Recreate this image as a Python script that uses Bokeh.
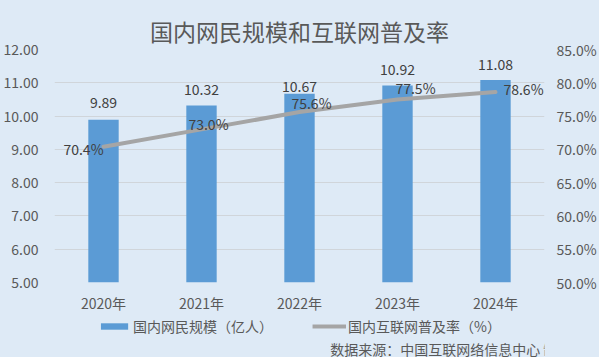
from bokeh.plotting import figure
from bokeh.layouts import column
from bokeh.models import (ColumnDataSource, Range1d, LinearAxis, PrintfTickFormatter,
                          LabelSet, Legend, LegendItem, Label, FactorRange, FixedTicker)
from bokeh.core.properties import value
from bokeh.embed import file_html
from bokeh.resources import INLINE

# ---- data ----
years = ["2020年", "2021年", "2022年", "2023年", "2024年"]
netizens = [9.89, 10.32, 10.67, 10.92, 11.08]          # 亿人
penetration = [70.4, 73.0, 75.6, 77.5, 78.6]           # %
netizen_labels = ["9.89", "10.32", "10.67", "10.92", "11.08"]
penetration_labels = ["70.4%", "73.0%", "75.6%", "77.5%", "78.6%"]
left_ticks = [5, 6, 7, 8, 9, 10, 11, 12]
right_ticks = [50, 55, 60, 65, 70, 75, 80, 85]
series_names = ["国内网民规模（亿人）", "国内互联网普及率（%）"]
source_text = "数据来源：中国互联网络信息中心  制图：《金基研》"

# label placement (screen px)
bar_label_dy = [17, 16, 7, 16, 16]
line_label_dx = [-20, 7, 12, 18, 28]
line_label_dy = [-2, 5, 9, 11, 3]

BG = "#DEEAF6"
TXT = "#595959"
DARK = "#404040"
BAR = "#5B9BD5"
LINE = "#A5A5A5"
FONT = "Noto Sans CJK SC"
BGSTYLE = {"background-color": BG}

src = ColumnDataSource(dict(
    x=years, n=netizens, p=penetration,
    nl=netizen_labels, pl=penetration_labels,
    bdy=bar_label_dy, ldx=line_label_dx, ldy=line_label_dy,
))

p = figure(width=599, height=316, x_range=FactorRange(*years, range_padding=0),
           y_range=Range1d(5, 12), output_backend="svg", toolbar_location=None,
           min_border_left=53, min_border_right=54, min_border_top=49, min_border_bottom=34,
           styles=BGSTYLE)
p.extra_y_ranges = {"pct": Range1d(50, 85)}
p.background_fill_color = BG
p.border_fill_color = BG
p.outline_line_color = None

p.title.text = "国内网民规模和互联网普及率"
p.title.align = "center"
p.title.text_font = FONT
p.title.text_font_size = "23px"
p.title.text_font_style = "normal"
p.title.text_color = TXT
p.title.standoff = 4

p.vbar(x="x", top="n", bottom=5, width=0.31, source=src, fill_color=BAR, line_color=None)
p.line(x="x", y="p", source=src, y_range_name="pct",
       line_color=LINE, line_width=4, line_join="round", line_cap="round")

# axes
def style_axis(ax):
    ax.axis_line_color = None
    ax.major_tick_line_color = None
    ax.minor_tick_line_color = None
    ax.major_tick_out = 0
    ax.major_tick_in = 0
    ax.minor_tick_out = 0
    ax.major_label_text_font = FONT
    ax.major_label_text_font_size = "14px"
    ax.major_label_text_color = TXT

style_axis(p.yaxis[0])
p.yaxis[0].ticker = FixedTicker(ticks=left_ticks)
p.yaxis[0].formatter = PrintfTickFormatter(format="%.2f")
p.yaxis[0].major_label_standoff = 16

raxis = LinearAxis(y_range_name="pct", ticker=FixedTicker(ticks=right_ticks),
                   formatter=PrintfTickFormatter(format="%.1f%%"))
style_axis(raxis)
raxis.major_label_standoff = 12
p.add_layout(raxis, "right")

style_axis(p.xaxis[0])
p.xaxis[0].major_label_standoff = 10

p.xgrid.grid_line_color = None
p.ygrid.grid_line_color = "#D0D5DA"
p.ygrid.grid_line_width = 1
p.ygrid.ticker = FixedTicker(ticks=left_ticks)

# data labels
p.add_layout(LabelSet(x="x", y="n", text="nl", source=src, y_offset="bdy",
                      text_align="center", text_baseline="middle",
                      text_font=value(FONT), text_font_size="14px", text_color=DARK))
p.add_layout(LabelSet(x="x", y="p", text="pl", source=src, y_range_name="pct",
                      x_offset="ldx", y_offset="ldy",
                      text_align="center", text_baseline="middle",
                      text_font=value(FONT), text_font_size="14px", text_color=DARK))

# ---- footer: legend + source note ----
f = figure(width=599, height=41, x_range=FactorRange(*years, range_padding=0),
           y_range=Range1d(0, 41),
           output_backend="svg", toolbar_location=None,
           x_axis_location=None, y_axis_location=None,
           min_border_left=0, min_border_right=0, min_border_top=0, min_border_bottom=0,
           styles=BGSTYLE)
f.background_fill_color = BG
f.border_fill_color = BG
f.outline_line_color = None
f.xgrid.visible = False
f.ygrid.visible = False
# legend renderers: the same series, drawn on a y range that keeps them out of view
f.extra_y_ranges = {"off": Range1d(1000, 1100)}
rb = f.vbar(x="x", top="n", bottom=5, width=0.31, source=src,
            y_range_name="off", fill_color=BAR, line_color=None)
rl = f.line(x="x", y="p", source=src, y_range_name="off",
            line_color=LINE, line_width=4, line_cap="butt")

legend = Legend(items=[LegendItem(label=series_names[0], renderers=[rb]),
                       LegendItem(label=series_names[1], renderers=[rl])],
                orientation="horizontal", location="top_center",
                background_fill_alpha=0, border_line_color=None,
                padding=0, margin=0, spacing=39, glyph_width=34, glyph_height=8,
                label_standoff=2, label_text_font=FONT, label_text_font_size="14px",
                label_text_color=TXT)
f.add_layout(legend, "center")

f.add_layout(Label(x=597, y=9, x_units="screen", y_units="screen", text=source_text,
                   text_align="right", text_baseline="middle",
                   text_font=FONT, text_font_size="14px", text_color=TXT))

html = file_html(column(p, f, spacing=0, styles=BGSTYLE), INLINE)
html = html.replace("<body>", '<body style="background:%s; margin:0">' % BG, 1)
open("out.html", "w").write(html)
